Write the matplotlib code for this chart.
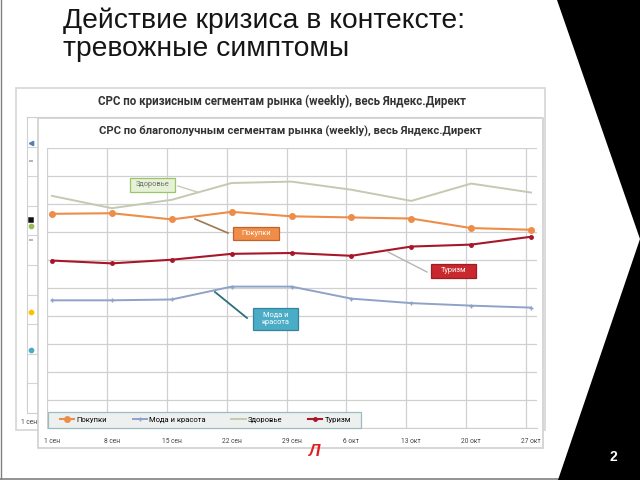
import matplotlib
matplotlib.use("Agg")
import matplotlib.pyplot as plt
from matplotlib.patches import Rectangle, Polygon

# weekly dates and CPC values (grid units)
weeks = ["1 сен", "8 сен", "15 сен", "22 сен", "29 сен", "6 окт", "13 окт", "20 окт", "27 окт"]
pokupki = [7.65, 7.67, 7.45, 7.72, 7.56, 7.52, 7.48, 7.14, 7.08]
moda = [4.56, 4.56, 4.59, 5.05, 5.05, 4.62, 4.46, 4.37, 4.30]
zdorovie = [8.29, 7.85, 8.15, 8.75, 8.80, 8.51, 8.11, 8.73, 8.41]
turizm = [5.98, 5.88, 6.01, 6.22, 6.25, 6.15, 6.48, 6.55, 6.83]

# first-week values of the crisis chart that peek out on the left
crisis_first = [9.12, 8.51, 6.52, 6.32, 5.84, 3.41, 2.13]
crisis_colors = ["#4f81bd", "#a0a0a0", "#111111", "#9bbb59", "#a0a0a0", "#ffc000", "#4bacc6"]
crisis_markers = ["<", "_", "s", "o", "_", "o", "o"]

W, H = 640, 480
chart_font = "Roboto"

fig = plt.figure(figsize=(6.4, 4.8), dpi=100)


def px_axes(z):
    a = fig.add_axes([0, 0, 1, 1], zorder=z)
    a.set_xlim(0, W)
    a.set_ylim(H, 0)
    a.axis("off")
    return a


def px_rect(x0, y0, x1, y1):
    # figure fraction rect from pixel box
    return [x0 / W, (H - y1) / H, (x1 - x0) / W, (y1 - y0) / H]


# --- slide background, title, background chart frame
slide = px_axes(0)
slide.plot([0.5, 0.5], [0, 479], color="#808080", lw=1)
slide.plot([0, 640], [478.5, 478.5], color="#808080", lw=1.2)
slide.text(63, 7, "Действие кризиса в контексте:\nтревожные симптомы",
           fontsize=20.3, family="Liberation Sans", va="top", ha="left",
           linespacing=1.12, color="#151515")
slide.add_patch(Rectangle((16, 88), 529, 342, fc="white", ec="#d6d6d6", lw=1.2))
slide.text(282, 101, "CPC по кризисным сегментам рынка (weekly), весь Яндекс.Директ",
           fontsize=8.3, family=chart_font, fontweight="bold", ha="center", va="center",
           color="#333333")
slide.text(21, 423, "1 сен", fontsize=4.8, family=chart_font, va="center", color="#444444")
slide.add_patch(Rectangle((27, 380), 40, 30, fc="#f0f2f2", ec="#a8c4c4", lw=0.8))

# --- background (crisis) chart, mostly hidden
bg = fig.add_axes(px_rect(27, 117, 540, 413), zorder=1)
bg.set_xlim(-0.07, 8.9)
bg.set_ylim(0, 10)
bg.set_yticks(range(11))
bg.set_xticks([])
bg.tick_params(length=0, labelleft=False)
bg.grid(axis="y", color="#d4d4d4", lw=0.8)
for s in bg.spines.values():
    s.set_color("#d0d0d0")
for v, c, m in zip(crisis_first, crisis_colors, crisis_markers):
    bg.plot([0], [v], marker=m, color=c, ms=3, mew=1.1)

# --- foreground chart frame
front = px_axes(2)
front.add_patch(Rectangle((38, 118), 505, 330, fc="white", ec="#d0d0d0", lw=1.2))
front.text(290, 131, "CPC по благополучным сегментам рынка (weekly), весь Яндекс.Директ",
           fontsize=8.1, family=chart_font, fontweight="bold", ha="center", va="center",
           color="#333333")

# --- foreground chart
ax = fig.add_axes(px_rect(47, 148, 537, 428), zorder=3)
ax.patch.set_alpha(0)
x = list(range(len(weeks)))
ax.set_xlim(-5 / 60, len(weeks) - 1 + 6 / 60)
ax.set_ylim(0, 10)
ax.set_yticks(range(11))
ax.set_xticks(x)
ax.set_xticklabels(weeks, fontsize=4.8, family=chart_font, color="#444444")
ax.set_xticks([i - 5 / 60 for i in x], minor=True)
ax.tick_params(which="both", length=0, labelleft=False, pad=7)
ax.grid(axis="y", color="#d0d0d0", lw=0.9)
ax.grid(axis="x", which="minor", color="#d0d0d0", lw=0.9)
for k, s in ax.spines.items():
    s.set_visible(k == "bottom")
ax.spines["bottom"].set_color("#d0d0d0")

ax.plot(x, zdorovie, color="#c3cab2", lw=1.4, label="Здоровье", zorder=3)
ax.plot(x, pokupki, color="#ec8d4a", lw=1.5, marker="o", ms=4, label="Покупки", zorder=4)
ax.plot(x, turizm, color="#a8162a", lw=1.5, marker="o", ms=2.5, label="Туризм", zorder=4)
ax.plot(x, moda, color="#8fa2c8", lw=1.4, marker="+", ms=3, label="Мода и красота", zorder=3)

# legend frame sits over the grid, legend entries centered in it
ax.add_patch(Rectangle((48, 412), 313, 16, transform=front.transData, clip_on=False,
                       fc="#eef0f0", ec="#9dbcbc", lw=0.9, zorder=4.5))
h, l = ax.get_legend_handles_labels()
order = [1, 3, 0, 2]
ax.legend([h[i] for i in order], [l[i] for i in order], ncol=4, loc="center",
          bbox_to_anchor=((205.5 - 47) / 490, 8 / 280), frameon=False,
          prop={"family": chart_font, "size": 5.5}, borderaxespad=0, borderpad=0,
          handlelength=1.9, handletextpad=0.3, columnspacing=3.3)

# --- callouts, slide decoration on top
top = px_axes(4)
top.plot([178, 197], [186, 192], color="#c6ccb6", lw=1)
top.plot([195, 228], [219, 233], color="#a07850", lw=1.2)
top.plot([388, 427], [252, 272], color="#b4b4b4", lw=1)
top.plot([215, 247], [292, 318], color="#2f6f78", lw=1.3)

callouts = [
    ((130, 178, 175, 192), "Здоровье", "#e6f2d6", "#9cc46a", "#707070"),
    ((233, 227, 279, 240), "Покупки", "#f08d48", "#c0622c", "white"),
    ((431, 264, 476, 278), "Туризм", "#c8282e", "#a01c20", "white"),
    ((253, 308, 298, 330), "Мода и\nкрасота", "#4bacc6", "#31859c", "white"),
]
for (x0, y0, x1, y1), txt, fc, ec, tc in callouts:
    top.add_patch(Rectangle((x0, y0), x1 - x0, y1 - y0, fc=fc, ec=ec, lw=0.9))
    top.text((x0 + x1) / 2, (y0 + y1) / 2, txt, fontsize=5.3, family=chart_font,
             color=tc, ha="center", va="center", linespacing=1.2)

top.add_patch(Polygon([(557, 0), (640, 0), (640, 480), (558, 480), (640, 239)],
                      closed=True, fc="black", ec="none"))
top.text(613, 457, "2", color="white", fontsize=10, family="Liberation Sans",
         fontweight="bold", ha="center", va="center")
top.text(315, 452, "Л", color="#e02020", fontsize=12, fontweight="bold",
         style="italic", family="Liberation Sans", ha="center", va="center")

fig.savefig("out.png", dpi=100)
